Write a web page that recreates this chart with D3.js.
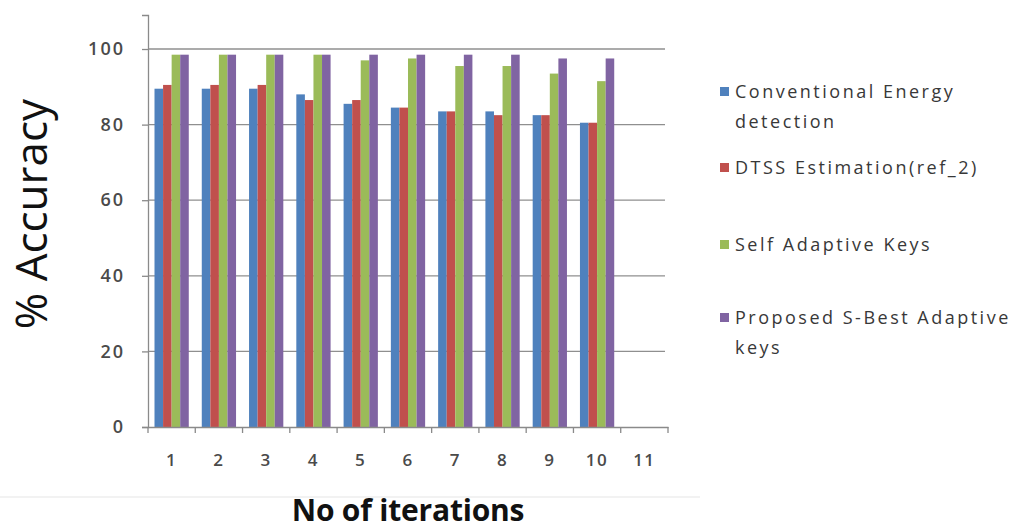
<!DOCTYPE html>
<html>
<head>
<meta charset="utf-8">
<script src="https://cdn.jsdelivr.net/npm/d3@7"></script>
<style>
  html, body { margin: 0; padding: 0; background: #fff; }
  svg { display: block; }
  text { font-family: "Open Sans", "Noto Sans", sans-serif; }
</style>
</head>
<body>
<svg id="chart" width="1018" height="531"></svg>
<script>
// ---- data ----
const categories = ["1","2","3","4","5","6","7","8","9","10","11"];
const seriesNames = ["Conventional Energy detection", "DTSS Estimation(ref_2)", "Self Adaptive Keys", "Proposed S-Best Adaptive keys"];
const conventional = [89.5, 89.5, 89.5, 88, 85.5, 84.5, 83.5, 83.5, 82.5, 80.5, null];
const dtss         = [90.5, 90.5, 90.5, 86.5, 86.5, 84.5, 83.5, 82.5, 82.5, 80.5, null];
const selfAdaptive = [98.5, 98.5, 98.5, 98.5, 97, 97.5, 95.5, 95.5, 93.5, 91.5, null];
const proposed     = [98.5, 98.5, 98.5, 98.5, 98.5, 98.5, 98.5, 98.5, 97.5, 97.5, null];
const yTicks = [0, 20, 40, 60, 80, 100];
const colors = ["#4F81BD", "#C0504D", "#9BBB59", "#8064A2"];
const legendLines = [["Conventional Energy", "detection"], ["DTSS Estimation(ref_2)"], ["Self Adaptive Keys"], ["Proposed S-Best Adaptive", "keys"]];

const seriesValues = [conventional, dtss, selfAdaptive, proposed];

// ---- layout ----
const svg = d3.select("#chart");
const plot = { left: 148, right: 668, top: 15, bottom: 427 };

const x0 = d3.scaleBand().domain(categories).range([plot.left, plot.right]).padding(0);
const groupPad = 6.5;
const x1 = d3.scaleBand().domain(d3.range(seriesNames.length))
  .range([groupPad, x0.bandwidth() - groupPad]).padding(0);
const y = d3.scaleLinear().domain([0, 109]).range([plot.bottom, plot.top]);

// gridlines
svg.append("g").selectAll("line")
  .data(yTicks.filter(d => d > 0))
  .join("line")
  .attr("x1", plot.left).attr("x2", plot.right - 3)
  .attr("y1", d => y(d)).attr("y2", d => y(d))
  .attr("stroke", "#8f8f8f").attr("stroke-width", 1.3);

// bars
const groups = svg.append("g").selectAll("g")
  .data(categories.map((c, i) => ({ c, i })))
  .join("g")
  .attr("transform", d => `translate(${x0(d.c)},0)`);

groups.selectAll("rect")
  .data(d => seriesValues.map((vals, s) => ({ s, v: vals[d.i] })).filter(e => e.v != null))
  .join("rect")
  .attr("x", d => x1(d.s))
  .attr("width", x1.bandwidth())
  .attr("y", d => y(d.v))
  .attr("height", d => y(0) - y(d.v))
  .attr("fill", d => colors[d.s]);

// y axis
const yAxis = d3.axisLeft(y).tickValues(yTicks).tickSize(6).tickPadding(17).tickFormat(d3.format("d"));
const yg = svg.append("g").attr("transform", `translate(${plot.left},0)`).call(yAxis);
yg.select(".domain").attr("stroke", "#8a8a8a").attr("stroke-width", 1.3);
yg.selectAll(".tick line").attr("stroke", "#8a8a8a").attr("stroke-width", 1.3);
yg.selectAll(".tick text").attr("font-size", 18).attr("font-weight", 600).attr("fill", "#4a4a4a")
  .style("letter-spacing", "2px").attr("font-family", "'Open Sans', sans-serif");

// x axis
const xAxis = d3.axisBottom(x0).tickSize(0).tickPadding(27);
const xg = svg.append("g").attr("transform", `translate(0,${plot.bottom})`).call(xAxis);
xg.select(".domain").attr("stroke", "#8a8a8a").attr("stroke-width", 1.3);
xg.selectAll(".tick text").attr("font-size", 17).attr("font-weight", 600).attr("fill", "#4a4a4a")
  .style("letter-spacing", "1.5px").attr("font-family", "'Open Sans', sans-serif");
// category boundary tick marks
svg.append("g").selectAll("line")
  .data(categories.concat(["end"]))
  .join("line")
  .attr("x1", (d, i) => i < categories.length ? x0(d) : plot.right)
  .attr("x2", (d, i) => i < categories.length ? x0(d) : plot.right)
  .attr("y1", plot.bottom).attr("y2", plot.bottom + 6)
  .attr("stroke", "#8a8a8a").attr("stroke-width", 1.3);

// faint separator
svg.append("line").attr("x1", 0).attr("x2", 700).attr("y1", 497).attr("y2", 497)
  .attr("stroke", "#f2f2f2").attr("stroke-width", 2);

// axis titles
svg.append("text")
  .attr("transform", "translate(47,214) rotate(-90)")
  .attr("text-anchor", "middle")
  .attr("font-size", 44).attr("font-weight", 500).attr("fill", "#111")
  .text("% Accuracy");

svg.append("text")
  .attr("x", 408).attr("y", 521)
  .attr("text-anchor", "middle")
  .attr("font-size", 30).attr("font-weight", 700).attr("fill", "#111")
  .style("letter-spacing", "-0.2px")
  .text("No of iterations");

// legend
const legendTop = [92, 168, 245, 318];
const leg = svg.append("g");
legendLines.forEach((lines, i) => {
  leg.append("rect").attr("x", 720).attr("y", legendTop[i] - 5).attr("width", 9).attr("height", 9)
    .attr("fill", colors[i]);
  lines.forEach((t, j) => {
    leg.append("text")
      .attr("x", 735).attr("y", legendTop[i] + j * 30)
      .attr("dy", "0.35em")
      .attr("font-size", 18).attr("font-weight", 500).attr("fill", "#383838")
      .style("letter-spacing", "2.5px")
      .text(t);
  });
});
</script>
</body>
</html>
